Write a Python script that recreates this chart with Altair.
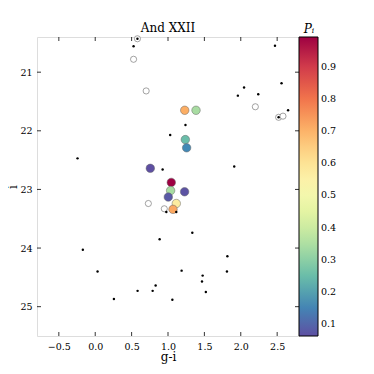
import altair as alt
import pandas as pd

# non-members (small black dots)
dot_g = [0.58, 0.527, 2.47, 2.56, 2.045, 2.24, 1.96, 2.65, 2.52, 1.24, 1.03, -0.243, 1.91,
         0.926, 0.977, 1.114, 1.334, 0.885, -0.17, 1.816, 1.187, 0.032, 1.81, 1.476, 1.467,
         0.83, 0.789, 0.582, 1.52, 0.257, 1.06]
dot_i = [20.43, 20.557, 20.55, 21.19, 21.26, 21.375, 21.40, 21.65, 21.77, 21.90, 22.07, 22.47, 22.61,
         22.66, 23.385, 23.385, 23.74, 23.85, 24.03, 24.14, 24.385, 24.40, 24.40, 24.47, 24.57,
         24.64, 24.73, 24.73, 24.75, 24.87, 24.88]

# open circles
open_g = [0.58, 0.527, 0.70, 2.20, 2.52, 2.58, 0.73, 0.949]
open_i = [20.43, 20.78, 21.32, 21.59, 21.77, 21.75, 23.24, 23.33]

# members coloured by probability
mem_g = [1.23, 1.385, 1.238, 1.256, 0.757, 1.045, 1.036, 1.228, 1.004, 1.114, 1.069]
mem_i = [21.65, 21.65, 22.15, 22.29, 22.64, 22.88, 23.02, 23.04, 23.13, 23.24, 23.34]
mem_p = [0.71, 0.34, 0.25, 0.156, 0.063, 0.992, 0.34, 0.07, 0.08, 0.57, 0.72]

x_ticks = [-0.5, 0.0, 0.5, 1.0, 1.5, 2.0, 2.5]
y_ticks = [21, 22, 23, 24, 25]
cbar_ticks = [0.1, 0.2, 0.3, 0.4, 0.5, 0.6, 0.7, 0.8, 0.9]

W, H = 262, 299
FONT = "DejaVu Serif"

dots = pd.DataFrame({"g": dot_g, "i": dot_i})
opens = pd.DataFrame({"g": open_g, "i": open_i})
mems = pd.DataFrame({"g": mem_g, "i": mem_i, "p": mem_p})
xt = pd.DataFrame({"t": x_ticks})
yt = pd.DataFrame({"t": y_ticks})

xs = alt.Scale(domain=[-0.8, 2.8], nice=False, zero=False)
ys = alt.Scale(domain=[20.4, 25.5], reverse=True, nice=False, zero=False)

xax = alt.Axis(values=x_ticks, format=".1f", title="g-i", ticks=False, domain=False, grid=False,
               labelFont=FONT, labelFontSize=9.5, labelPadding=5, titleFont=FONT,
               titleFontSize=12, titleFontWeight="normal", titlePadding=1, labelColor="black",
               titleColor="black")
yax = alt.Axis(values=y_ticks, format="d", title="i", ticks=False, domain=False, grid=False,
               labelFont=FONT, labelFontSize=9.5, labelPadding=5, titleFont=FONT,
               titleFontSize=12, titleFontWeight="normal", titlePadding=0, labelColor="black",
               titleColor="black")

X = alt.X("g:Q", scale=xs, axis=xax)
Y = alt.Y("i:Q", scale=ys, axis=yax)

open_layer = alt.Chart(opens).mark_point(shape="circle", filled=True, fill="white",
                                         stroke="#666666", strokeWidth=0.6, size=38, opacity=1).encode(x=X, y=Y)

mem_layer = alt.Chart(mems).mark_point(shape="circle", filled=True, stroke="#666666",
                                       strokeWidth=0.5, size=72, opacity=1).encode(
    x=X, y=Y,
    fill=alt.Fill("p:Q", scale=alt.Scale(scheme="spectral", reverse=True, domain=[0.063, 0.992]),
                  legend=alt.Legend(title=None, orient="none", legendX=W, legendY=0,
                                    gradientLength=H, gradientThickness=19,
                                    gradientStrokeColor="black", gradientStrokeWidth=1,
                                    values=cbar_ticks, format=".1f", labelOverlap=False,
                                    labelFont=FONT, labelFontSize=9.5, labelColor="black",
                                    labelOffset=3, tickCount=9, padding=0)))

dot_layer = alt.Chart(dots).mark_point(shape="circle", filled=True, color="black",
                                       size=6, opacity=1).encode(x=X, y=Y)

tick_len = 4
bt = alt.Chart(xt).mark_rule(color="black", strokeWidth=0.8).encode(
    x=alt.X("t:Q", scale=xs), y=alt.value(H), y2=alt.value(H - tick_len))
tt = alt.Chart(xt).mark_rule(color="black", strokeWidth=0.8).encode(
    x=alt.X("t:Q", scale=xs), y=alt.value(0), y2=alt.value(tick_len))
lt = alt.Chart(yt).mark_rule(color="black", strokeWidth=0.8).encode(
    y=alt.Y("t:Q", scale=ys), x=alt.value(0), x2=alt.value(tick_len))
rt = alt.Chart(yt).mark_rule(color="black", strokeWidth=0.8).encode(
    y=alt.Y("t:Q", scale=ys), x=alt.value(W), x2=alt.value(W - tick_len))

ptitle = alt.Chart(pd.DataFrame({"s": ["P\u1d62"]})).mark_text(
    font=FONT, fontSize=12, fontStyle="italic", color="black", align="center", baseline="bottom").encode(
    text="s:N", x=alt.value(W + 10), y=alt.value(-1))

ctitle = alt.Chart(pd.DataFrame({"s": ["And XXII"]})).mark_text(
    font=FONT, fontSize=12, color="black", align="center", baseline="bottom").encode(
    text="s:N", x=alt.value(W / 2), y=alt.value(-2))

chart = alt.layer(open_layer, mem_layer, dot_layer, bt, tt, lt, rt, ptitle, ctitle).properties(
    width=W, height=H,
    autosize=alt.AutoSizeParams(type="none"),
    padding={"left": 29, "top": 29, "right": 60, "bottom": 28},
).configure_view(stroke="black", strokeWidth=1.2).configure(background="white")

chart.save("out.html", embed_options={"renderer": "svg", "actions": False})
